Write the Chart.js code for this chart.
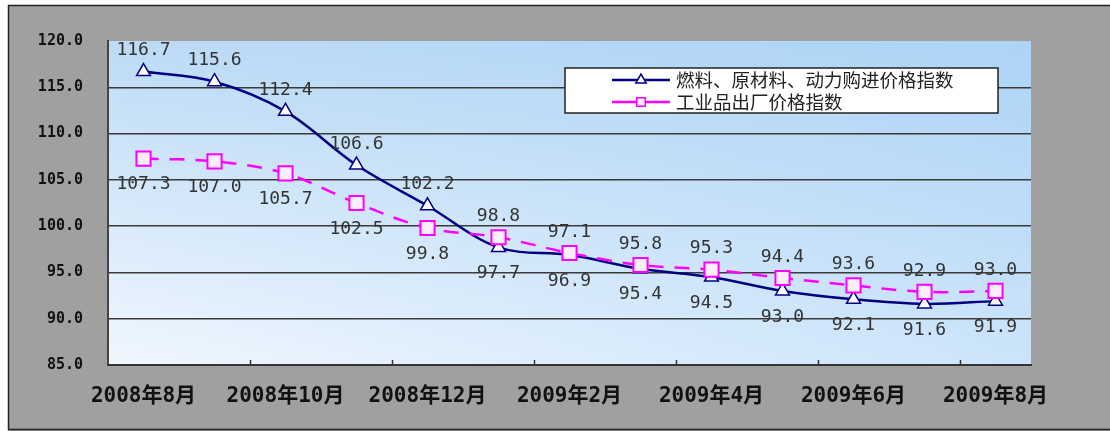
<!DOCTYPE html>
<html>
<head>
<meta charset="utf-8">
<script src="https://cdn.jsdelivr.net/npm/chart.js@4/dist/chart.umd.min.js"></script>
<style>
  body { margin: 0; background: #fff; }
  #wrap { width: 1110px; height: 431px; }
</style>
</head>
<body>
<div id="wrap"><canvas id="priceChart"></canvas></div>
<script>
const months = ['2008年8月', '2008年9月', '2008年10月', '2008年11月', '2008年12月', '2009年1月',
    '2009年2月', '2009年3月', '2009年4月', '2009年5月', '2009年6月', '2009年7月', '2009年8月'];
const fuelIndex = [116.7, 115.6, 112.4, 106.6, 102.2, 97.7, 96.9, 95.4, 94.5, 93.0, 92.1, 91.6, 91.9];
const factoryIndex = [107.3, 107.0, 105.7, 102.5, 99.8, 98.8, 97.1, 95.8, 95.3, 94.4, 93.6, 92.9, 93.0];
const seriesNames = ['燃料、原材料、动力购进价格指数', '工业品出厂价格指数'];
const yMin = 85, yMax = 120, yStep = 5;

const ctx = document.getElementById('priceChart').getContext('2d');

// gray frame + gradient plot background
const framePlugin = {
    id: 'frame',
    beforeDraw(chart) {
        const c = chart.ctx;
        const a = chart.chartArea;
        c.save();
        c.fillStyle = '#fff';
        c.fillRect(0, 0, chart.width, chart.height);
        c.fillStyle = '#a0a0a0';
        c.fillRect(8, 5, chart.width, chart.height);
        c.strokeStyle = '#222';
        c.lineWidth = 1.5;
        c.strokeRect(8.5, 5.5, chart.width, chart.height - 7);
        const w = a.right - a.left, h = a.bottom - a.top;
        const g = c.createLinearGradient(0, a.bottom, 0, a.top);
        g.addColorStop(0, '#f0f7fe');
        g.addColorStop(1, '#bddbf6');
        c.fillStyle = g;
        c.fillRect(a.left, a.top, w, h);
        const g2 = c.createLinearGradient(a.left, 0, a.right, 0);
        g2.addColorStop(0, 'rgba(150,200,245,0)');
        g2.addColorStop(1, 'rgba(150,200,245,0.4)');
        c.fillStyle = g2;
        c.fillRect(a.left, a.top, w, h);
        c.restore();
    }
};

// value labels, small axis ticks and the boxed legend
const extrasPlugin = {
    id: 'extras',
    afterDatasetsDraw(chart) {
        const c = chart.ctx;
        const a = chart.chartArea;
        const xs = chart.scales.x;

        c.save();
        c.strokeStyle = '#333';
        c.lineWidth = 1.5;
        for (let i = 1; i < months.length - 1; i += 2) {
            const x = Math.round((xs.getPixelForValue(i) + xs.getPixelForValue(i + 1)) / 2) + 0.5;
            c.beginPath();
            c.moveTo(x, a.bottom);
            c.lineTo(x, a.bottom - 5);
            c.stroke();
        }

        c.beginPath();
        c.rect(a.left, a.top, a.right - a.left, a.bottom - a.top);
        c.clip();
        c.font = '18px "DejaVu Sans Mono"';
        c.fillStyle = '#333';
        c.textAlign = 'center';
        c.textBaseline = 'middle';
        const all = [fuelIndex, factoryIndex];
        all.forEach((vals, di) => {
            const meta = chart.getDatasetMeta(di);
            const other = all[1 - di];
            meta.data.forEach((pt, i) => {
                const above = vals[i] > other[i];
                const y = above ? pt.y - 21 : pt.y + 26;
                c.fillText(vals[i].toFixed(1), pt.x, y);
            });
        });
        c.restore();

        // legend box
        c.save();
        const bx = 565, by = 68, bw = 433, bh = 45;
        c.fillStyle = '#fff';
        c.fillRect(bx, by, bw, bh);
        c.strokeStyle = '#222';
        c.lineWidth = 1.5;
        c.strokeRect(bx, by, bw, bh);
        chart.data.datasets.forEach((ds, i) => {
            const y = 80 + i * 22;
            c.strokeStyle = ds.borderColor;
            c.lineWidth = 2.5;
            c.setLineDash([]);
            c.beginPath();
            c.moveTo(612, y);
            c.lineTo(670, y);
            c.stroke();
            c.fillStyle = ds.pointBackgroundColor;
            c.strokeStyle = ds.pointBorderColor;
            c.lineWidth = 1.5;
            Chart.helpers.drawPoint(c, {pointStyle: ds.pointStyle, radius: 6, rotation: 0, borderWidth: 1.5}, 641, y);
            c.fillStyle = '#222';
            c.font = '18.5px "Noto Sans CJK SC"';
            c.textAlign = 'left';
            c.textBaseline = 'middle';
            c.fillText(ds.label, 676, y);
        });
        c.restore();
    }
};

new Chart(ctx, {
    type: 'line',
    data: {
        labels: months,
        datasets: [{
            label: seriesNames[0],
            data: fuelIndex,
            borderColor: '#000080',
            borderWidth: 2.5,
            tension: 0.35,
            pointStyle: 'triangle',
            pointRadius: 8,
            pointBackgroundColor: '#fff',
            pointBorderColor: '#000080',
            pointBorderWidth: 1.5,
            order: 1
        }, {
            label: seriesNames[1],
            data: factoryIndex,
            borderColor: '#ff00ff',
            borderWidth: 2.5,
            borderDash: [15, 11],
            tension: 0.35,
            pointStyle: 'rect',
            pointRadius: 10,
            pointBackgroundColor: '#fdeefd',
            pointBorderColor: '#ff00ff',
            pointBorderWidth: 2,
            order: 0
        }]
    },
    options: {
        responsive: true,
        maintainAspectRatio: false,
        animation: false,
        devicePixelRatio: 1,
        layout: { padding: { left: 8, top: 41, right: 79, bottom: 16 } },
        plugins: {
            legend: { display: false },
            tooltip: { enabled: false }
        },
        scales: {
            x: {
                offset: true,
                grid: { drawOnChartArea: false, drawTicks: false },
                border: { display: true, color: '#333', width: 2 },
                ticks: {
                    autoSkip: false,
                    maxRotation: 0,
                    padding: 19,
                    color: '#111',
                    font: { family: '"DejaVu Sans Mono", "Noto Sans CJK SC"', size: 21, weight: 'bold' },
                    callback: (v, i) => i % 2 === 0 ? months[i] : ''
                },
                afterFit: s => { s.height = 50; }
            },
            y: {
                min: yMin,
                max: yMax,
                ticks: {
                    stepSize: yStep,
                    padding: 25,
                    color: '#111',
                    font: { family: '"DejaVu Sans Mono"', size: 15, weight: 'bold' },
                    callback: v => v.toFixed(1)
                },
                grid: {
                    drawTicks: false,
                    lineWidth: 1.5,
                    color: c => (c.tick && (c.tick.value === yMax || c.tick.value === yMin)) ? 'rgba(0,0,0,0)' : '#3a3a3a'
                },
                border: { color: '#444', width: 2 },
                afterFit: s => { s.width = 100; }
            }
        }
    },
    plugins: [framePlugin, extrasPlugin]
});
</script>
</body>
</html>
